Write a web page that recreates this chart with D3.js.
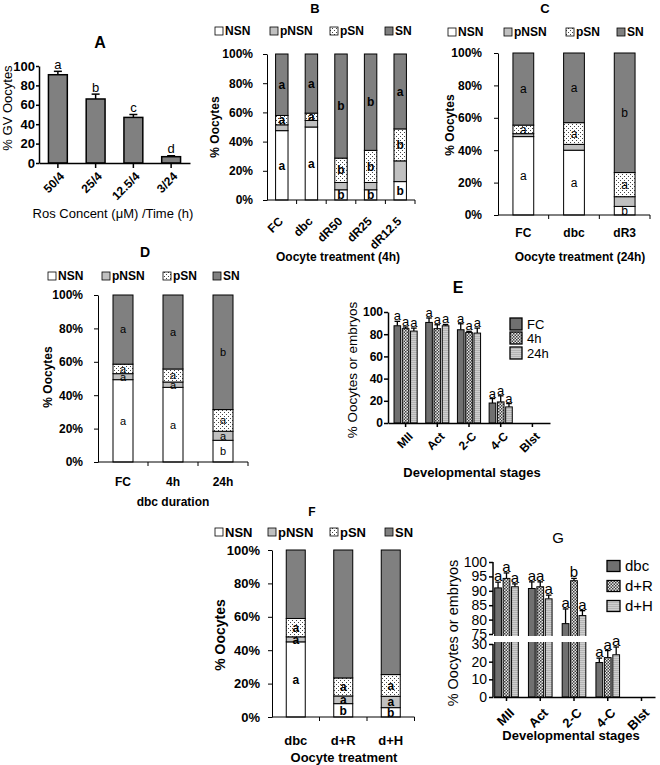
<!DOCTYPE html>
<html><head><meta charset="utf-8">
<script src="https://cdn.jsdelivr.net/npm/d3@7"></script>
<style>
body{margin:0;background:#fff}
svg{display:block}
text{font-family:"Liberation Sans",Arial,sans-serif;fill:#000}
</style>
</head><body>
<svg id="c" width="660" height="765"></svg>
<script>
// ---------- DATA ----------
const A_categories = ["50/4","25/4","12.5/4","3/24"];
const A_values = [91,66,47,6.5];
const A_errors = [3.5,5,3,1];
const A_letters = ["a","b","c","d"];

const stackSeries = ["NSN","pNSN","pSN","SN"];
const pctTicks = [0,20,40,60,80,100];

const B_categories = ["FC","dbc","dR50","dR25","dR12.5"];
const B_NSN  = [47.5,50,7,7,12.6];
const B_pNSN = [4,4.5,5,5,14.2];
const B_pSN  = [6.4,5,16.7,22,21.9];
const B_SN   = [42.1,40.5,71.3,66,51.3];
const B_letNSN  = ["a","a","b","b","b"];
const B_letpNSN = ["","","","",""];
const B_letpSN  = ["a","a","b","b","b"];
const B_letSN   = ["a","a","b","b","a"];

const C_categories = ["FC","dbc","dR3"];
const C_NSN  = [48.4,40,5.3];
const C_pNSN = [1.8,3.6,6];
const C_pSN  = [5.3,13.4,14.9];
const C_SN   = [44.5,43,73.8];
const C_letNSN  = ["a","a","b"];
const C_letpNSN = ["","",""];
const C_letpSN  = ["a","a","a"];
const C_letSN   = ["a","a","b"];

const D_categories = ["FC","4h","24h"];
const D_NSN  = [49.3,44.7,13];
const D_pNSN = [3.6,3.2,5.4];
const D_pSN  = [5.7,7.8,13];
const D_SN   = [41.4,44.3,68.6];
const D_letNSN  = ["a","a","b"];
const D_letpNSN = ["a","a","a"];
const D_letpSN  = ["a","a","a"];
const D_letSN   = ["a","a","b"];

const F_categories = ["dbc","d+R","d+H"];
const F_NSN  = [45,8,5.6];
const F_pNSN = [3,4.6,6.8];
const F_pSN  = [11,10.8,13];
const F_SN   = [41,76.6,74.6];
const F_letNSN  = ["a","b","b"];
const F_letpNSN = ["a","a","a"];
const F_letpSN  = ["a","a","a"];
const F_letSN   = ["","",""];

const E_stages = ["MII","Act","2-C","4-C","Blst"];
const E_series = ["FC","4h","24h"];
const E_FC      = [87.6,90.6,84,18,0];
const E_FC_err  = [4,4,5.4,4,0];
const E_4h      = [85,85,81.6,19,0];
const E_4h_err  = [1.5,3.5,1,5.5,0];
const E_24h     = [82.8,87.6,81,14.5,0];
const E_24h_err = [2.7,1.2,4.5,3,0];
const E_let_FC  = ["a","a","a","a",""];
const E_let_4h  = ["a","a","a","a",""];
const E_let_24h = ["a","a","a","a",""];
const E_ticks = [0,20,40,60,80,100];

const G_stages = ["MII","Act","2-C","4-C","Blst"];
const G_series = ["dbc","d+R","d+H"];
const G_dbc     = [91,90.8,78.6,19.5,0];
const G_dbc_err = [2,2.3,5.1,2.5,0];
const G_dR      = [94.3,91.4,93.5,22.3,0];
const G_dR_err  = [1.9,1.7,0.8,4,0];
const G_dH      = [91.4,87.2,81.4,23.9,0];
const G_dH_err  = [1,1.3,1.7,4.4,0];
const G_let_dbc = ["a","a","a","a",""];
const G_let_dR  = ["a","a","b","a",""];
const G_let_dH  = ["a","a","a","a",""];
const G_ticks = [0,10,20,30,75,80,85,90,95,100];

// ---------- SETUP ----------
const svg = d3.select("#c");
const defs = svg.append("defs");
const dots = defs.append("pattern").attr("id","dots").attr("patternUnits","userSpaceOnUse").attr("width",4).attr("height",4);
dots.append("rect").attr("width",4).attr("height",4).attr("fill","#fff");
dots.append("rect").attr("x",0).attr("y",0).attr("width",1).attr("height",1).attr("fill","#444");
dots.append("rect").attr("x",2).attr("y",2).attr("width",1).attr("height",1).attr("fill","#444");
const chk = defs.append("pattern").attr("id","chk").attr("patternUnits","userSpaceOnUse").attr("width",3).attr("height",3);
chk.append("rect").attr("width",3).attr("height",3).attr("fill","#e8e8e8");
chk.append("rect").attr("width",1.5).attr("height",1.5).attr("fill","#404040");
chk.append("rect").attr("x",1.5).attr("y",1.5).attr("width",1.5).attr("height",1.5).attr("fill","#404040");
const hst = defs.append("pattern").attr("id","hst").attr("patternUnits","userSpaceOnUse").attr("width",4).attr("height",2);
hst.append("rect").attr("width",4).attr("height",2).attr("fill","#cfcfcf");
hst.append("rect").attr("width",4).attr("height",0.7).attr("fill","#a8a8a8");

function txt(g,x,y,s,o={}){
  const t=g.append("text").attr("x",x).attr("y",y).attr("dy",o.dy||"0.35em")
    .attr("text-anchor",o.anchor||"middle").attr("font-size",o.size||12)
    .attr("font-weight",o.weight||"normal").text(s);
  if(o.rotate!==undefined) t.attr("transform",`rotate(${o.rotate},${x},${y})`);
  return t;
}

// ---------- PANEL A ----------
(function(){
  const g=svg.append("g");
  const x=d3.scaleBand().domain(A_categories).range([39,190]).paddingInner(0.5).paddingOuter(0.25);
  const y=d3.scaleLinear().domain([0,100]).range([163,66]);
  A_categories.forEach((c,i)=>{
    const v=A_values[i], e=A_errors[i], cx=x(c)+x.bandwidth()/2;
    g.append("line").attr("x1",cx).attr("x2",cx).attr("y1",y(v)).attr("y2",y(v+e)).attr("stroke","#000").attr("stroke-width",1.5);
    g.append("line").attr("x1",cx-4).attr("x2",cx+4).attr("y1",y(v+e)).attr("y2",y(v+e)).attr("stroke","#000").attr("stroke-width",1.5);
    g.append("rect").attr("x",x(c)).attr("width",x.bandwidth()).attr("y",y(v)).attr("height",y(0)-y(v))
      .attr("fill","#808080").attr("stroke","#000").attr("stroke-width",1.5);
    txt(g,cx,y(v+e)-7,A_letters[i],{size:13});
  });
  const ya=d3.axisLeft(y).tickValues([0,20,40,60,80,100]).tickSize(3).tickSizeOuter(0).tickPadding(1);
  const yg=g.append("g").attr("transform","translate(39,0)").call(ya);
  yg.selectAll("text").attr("font-size",13).attr("font-weight","bold").style("font-family","Liberation Sans, Arial");
  yg.selectAll("line,path").attr("stroke","#000").attr("stroke-width",1.5);
  const xa=d3.axisBottom(x).tickSize(5).tickSizeOuter(0).tickFormat("");
  const xg=g.append("g").attr("transform","translate(0,163)").call(xa);
  xg.selectAll("line,path").attr("stroke","#000").attr("stroke-width",1.5);
  A_categories.forEach(c=>{
    const cx=x(c)+x.bandwidth()/2;
    g.append("text").attr("transform",`translate(${cx+1},${171}) rotate(-45)`).attr("dy","0.72em")
      .attr("text-anchor","end").attr("font-size",12).attr("font-weight","bold").text(c);
  });
  txt(g,100,42,"A",{size:16,weight:"bold"});
  txt(g,7,108,"% GV Oocytes",{size:13,rotate:-90});
  txt(g,113,213,"Ros Concent (μM) /Time (h)",{size:13});
})();

// ---------- STACKED PANELS ----------
function stacked(cfg){
  const g=svg.append("g");
  const x=d3.scaleBand().domain(cfg.cats).range([cfg.left,cfg.right]).paddingInner(cfg.pad).paddingOuter(cfg.pad/2);
  const y=d3.scaleLinear().domain([0,100]).range([cfg.bottom,cfg.top]);
  const series=[cfg.NSN,cfg.pNSN,cfg.pSN,cfg.SN];
  const lets=[cfg.lNSN,cfg.lpNSN,cfg.lpSN,cfg.lSN];
  const fills=["#fff","#c0c0c0","url(#dots)","#808080"];
  cfg.cats.forEach((c,i)=>{
    let base=0;
    series.forEach((s,k)=>{
      const v=s[i];
      g.append("rect").attr("x",x(c)).attr("width",x.bandwidth()).attr("y",y(base+v)).attr("height",y(base)-y(base+v))
        .attr("fill",fills[k]).attr("stroke","#000").attr("stroke-width",1);
      base+=v;
    });
    base=0;
    series.forEach((s,k)=>{
      const v=s[i], L=lets[k][i];
      if(L) txt(g,x(c)+x.bandwidth()/2,y(base+v/2),L,{size:cfg.letSize,weight:cfg.letWeight});
      base+=v;
    });
  });
  const ya=d3.axisLeft(y).tickValues(pctTicks).tickFormat(d=>d+"%").tickSize(4).tickSizeOuter(0).tickPadding(cfg.tickPad);
  const yg=g.append("g").attr("transform",`translate(${cfg.left},0)`).call(ya);
  yg.selectAll("text").attr("font-size",cfg.tickSize).attr("font-weight","bold").style("font-family","Liberation Sans, Arial");
  yg.selectAll("line,path").attr("stroke","#000").attr("stroke-width",1);
  g.append("line").attr("x1",cfg.left).attr("x2",cfg.right).attr("y1",cfg.bottom).attr("y2",cfg.bottom).attr("stroke","#000");
  cfg.cats.forEach((c,i)=>{
    const bx=cfg.left+(i+1)*x.step();
    g.append("line").attr("x1",bx).attr("x2",bx).attr("y1",cfg.bottom).attr("y2",cfg.bottom+4).attr("stroke","#000");
  });
  cfg.cats.forEach(c=>{
    const cx=x(c)+x.bandwidth()/2;
    if(cfg.rotLabels){
      g.append("text").attr("transform",`translate(${cx-4},${cfg.bottom+16}) rotate(-45)`).attr("dy","0.72em")
        .attr("text-anchor","end").attr("font-size",cfg.xSize).attr("font-weight","bold").text(c);
    } else {
      txt(g,cx,cfg.xLabY,c,{size:cfg.xSize,weight:"bold"});
    }
  });
  // legend
  stackSeries.forEach((s,k)=>{
    const lx=cfg.legX[k];
    g.append("rect").attr("x",lx).attr("y",cfg.legY-4).attr("width",8).attr("height",8)
      .attr("fill",fills[k]).attr("stroke","#000").attr("stroke-width",0.8);
    txt(g,lx+10,cfg.legY,s,{anchor:"start",size:cfg.legSize,weight:"bold"});
  });
  txt(g,cfg.titleX,cfg.titleY,cfg.title,{size:cfg.titleSize,weight:"bold"});
  txt(g,cfg.yTitleX,cfg.yTitleY,"% Oocytes",{size:cfg.yTitleSize,weight:"bold",rotate:-90});
  txt(g,cfg.xTitleX,cfg.xTitleY,cfg.xTitle,{size:cfg.xTitleSize,weight:"bold"});
}

stacked({cats:B_categories,NSN:B_NSN,pNSN:B_pNSN,pSN:B_pSN,SN:B_SN,
  lNSN:B_letNSN,lpNSN:B_letpNSN,lpSN:B_letpSN,lSN:B_letSN,
  left:267,right:415,top:54,bottom:200,pad:0.58,letSize:12,letWeight:"bold",
  tickPad:10,tickSize:12,rotLabels:true,xSize:12,
  legX:[215,270,330,385],legY:31,legSize:12,
  title:"B",titleX:315,titleY:8,titleSize:13,
  yTitleX:215,yTitleY:127,yTitleSize:12,
  xTitle:"Oocyte treatment (4h)",xTitleX:338,xTitleY:257,xTitleSize:12});

stacked({cats:C_categories,NSN:C_NSN,pNSN:C_pNSN,pSN:C_pSN,SN:C_SN,
  lNSN:C_letNSN,lpNSN:C_letpNSN,lpSN:C_letpSN,lSN:C_letSN,
  left:498,right:650,top:53,bottom:215,pad:0.59,letSize:12,letWeight:"normal",
  tickPad:12,tickSize:12,rotLabels:false,xSize:12,xLabY:233,
  legX:[448,504,566,617],legY:32,legSize:12,
  title:"C",titleX:545,titleY:8,titleSize:13,
  yTitleX:450,yTitleY:125,yTitleSize:12,
  xTitle:"Oocyte treatment (24h)",xTitleX:580,xTitleY:257,xTitleSize:12});

stacked({cats:D_categories,NSN:D_NSN,pNSN:D_pNSN,pSN:D_pSN,SN:D_SN,
  lNSN:D_letNSN,lpNSN:D_letpNSN,lpSN:D_letpSN,lSN:D_letSN,
  left:98,right:248,top:295,bottom:462,pad:0.6,letSize:11,letWeight:"normal",
  tickPad:11,tickSize:12,rotLabels:false,xSize:12,xLabY:482,
  legX:[48,102,163,213],legY:276,legSize:12,
  title:"D",titleX:145,titleY:252,titleSize:14,
  yTitleX:48,yTitleY:377,yTitleSize:12,
  xTitle:"dbc duration",xTitleX:173,xTitleY:502,xTitleSize:12});

stacked({cats:F_categories,NSN:F_NSN,pNSN:F_pNSN,pSN:F_pSN,SN:F_SN,
  lNSN:F_letNSN,lpNSN:F_letpNSN,lpSN:F_letpSN,lSN:F_letSN,
  left:272,right:414.5,top:550,bottom:717,pad:0.6,letSize:12,letWeight:"bold",
  tickPad:8,tickSize:13,rotLabels:false,xSize:13,xLabY:740,
  legX:[215,268,330,385],legY:532,legSize:13,
  title:"F",titleX:312,titleY:512,titleSize:12,
  yTitleX:220,yTitleY:635,yTitleSize:14,
  xTitle:"Oocyte treatment",xTitleX:344,xTitleY:757,xTitleSize:13});

// ---------- GROUPED PANELS ----------
function grouped(cfg){
  const g=svg.append("g");
  const x0=d3.scaleBand().domain(cfg.stages).range([cfg.left,cfg.right]).paddingInner(cfg.pi).paddingOuter(cfg.po);
  const x1=d3.scaleBand().domain(cfg.series).range([0,x0.bandwidth()]).paddingInner(0.2);
  const y=cfg.y;
  const fills=["#707070","url(#chk)","url(#hst)"];
  cfg.series.forEach((s,k)=>{
    cfg.stages.forEach((st,i)=>{
      const v=cfg.vals[k][i], e=cfg.errs[k][i];
      if(v<=0) return;
      const bx=x0(st)+x1(s), cx=bx+x1.bandwidth()/2;
      g.append("line").attr("x1",cx).attr("x2",cx).attr("y1",y(v)).attr("y2",y(v+e)).attr("stroke","#000").attr("stroke-width",1.3);
      g.append("line").attr("x1",cx-2.8).attr("x2",cx+2.8).attr("y1",y(v+e)).attr("y2",y(v+e)).attr("stroke","#000").attr("stroke-width",1.3);
      g.append("rect").attr("x",bx).attr("width",x1.bandwidth()).attr("y",y(v)).attr("height",y(0)-y(v))
        .attr("fill",fills[k]).attr("stroke","#000").attr("stroke-width",1);
    });
  });
  if(cfg.brk){
    g.append("rect").attr("x",cfg.left+1).attr("y",cfg.brk[0]).attr("width",110).attr("height",cfg.brk[1]-cfg.brk[0]).attr("fill","#fff");
  }
  cfg.series.forEach((s,k)=>{
    cfg.stages.forEach((st,i)=>{
      const v=cfg.vals[k][i], e=cfg.errs[k][i], L=cfg.lets[k][i];
      if(!L) return;
      const cx=x0(st)+x1(s)+x1.bandwidth()/2;
      txt(g,cx,y(v+e)-1,L,{size:cfg.letSize,dy:"0"});
    });
  });
  const ya=d3.axisLeft(y).tickValues(cfg.ticks).tickSize(4).tickSizeOuter(0).tickPadding(cfg.tickPad);
  const yg=g.append("g").attr("transform",`translate(${cfg.left},0)`).call(ya);
  yg.selectAll("text").attr("font-size",cfg.tickSize).attr("font-weight",cfg.tickWeight).style("font-family","Liberation Sans, Arial");
  yg.selectAll("line,path").attr("stroke","#000").attr("stroke-width",1.5);
  if(cfg.segs){
    yg.select(".domain").remove();
    cfg.segs.forEach(sg=>{
      g.append("line").attr("x1",cfg.left).attr("x2",cfg.left).attr("y1",y(sg[0])).attr("y2",y(sg[1])).attr("stroke","#000").attr("stroke-width",1.5);
    });
  }
  const xa=d3.axisBottom(x0).tickSize(4).tickSizeOuter(0).tickFormat("");
  const xg=g.append("g").attr("transform",`translate(0,${y(0)})`).call(xa);
  xg.selectAll("line,path").attr("stroke","#000").attr("stroke-width",1.5);
  cfg.stages.forEach(st=>{
    const cx=x0(st)+x0.bandwidth()/2;
    g.append("text").attr("transform",`translate(${cx+2},${y(0)+cfg.labOff}) rotate(-45)`).attr("dy","0.72em")
      .attr("text-anchor","end").attr("font-size",cfg.xSize).attr("font-weight","bold").text(st);
  });
  cfg.series.forEach((s,k)=>{
    const ly=cfg.legY[k];
    g.append("rect").attr("x",cfg.legX).attr("y",ly-cfg.legH/2).attr("width",cfg.legW).attr("height",cfg.legH)
      .attr("fill",fills[k]).attr("stroke","#000").attr("stroke-width",1.3);
    txt(g,cfg.legX+cfg.legW+5,ly,s,{anchor:"start",size:cfg.legSize});
  });
  txt(g,cfg.titleX,cfg.titleY,cfg.title,{size:cfg.titleSize,weight:cfg.titleWeight});
  txt(g,cfg.yTitleX,cfg.yTitleY,"% Oocytes or embryos",{size:cfg.yTitleSize,rotate:-90});
  txt(g,cfg.xTitleX,cfg.xTitleY,"Developmental stages",{size:cfg.xTitleSize,weight:"bold"});
}

grouped({stages:E_stages,series:E_series,
  vals:[E_FC,E_4h,E_24h],errs:[E_FC_err,E_4h_err,E_24h_err],lets:[E_let_FC,E_let_4h,E_let_24h],
  left:388,right:550,pi:0.27,po:0.19,
  y:d3.scaleLinear().domain([0,100]).range([423,312]),ticks:E_ticks,
  tickPad:1,tickSize:12,tickWeight:"bold",letSize:13,xSize:12,labOff:8,
  legX:510,legY:[324,338,353],legW:12,legH:12,legSize:13,
  title:"E",titleX:458,titleY:287,titleSize:16,titleWeight:"bold",
  yTitleX:352,yTitleY:370,yTitleSize:13.5,xTitleX:472,xTitleY:472,xTitleSize:13});

grouped({stages:G_stages,series:G_series,
  vals:[G_dbc,G_dR,G_dH],errs:[G_dbc_err,G_dR_err,G_dH_err],lets:[G_let_dbc,G_let_dR,G_let_dH],
  left:493,right:655,pi:0.3,po:0.05,
  y:d3.scaleLinear().domain([0,30,75,100]).range([697,644,634,562]),ticks:G_ticks,
  segs:[[0,30],[75,100]],brk:[636,642],
  tickPad:2,tickSize:14,tickWeight:"normal",letSize:15,xSize:13,labOff:10,
  legX:607,legY:[566,586,606],legW:13,legH:11,legSize:15,
  title:"G",titleX:558,titleY:538,titleSize:15,titleWeight:"normal",
  yTitleX:453,yTitleY:633,yTitleSize:14.5,xTitleX:571,xTitleY:735,xTitleSize:13});
</script>
</body></html>
